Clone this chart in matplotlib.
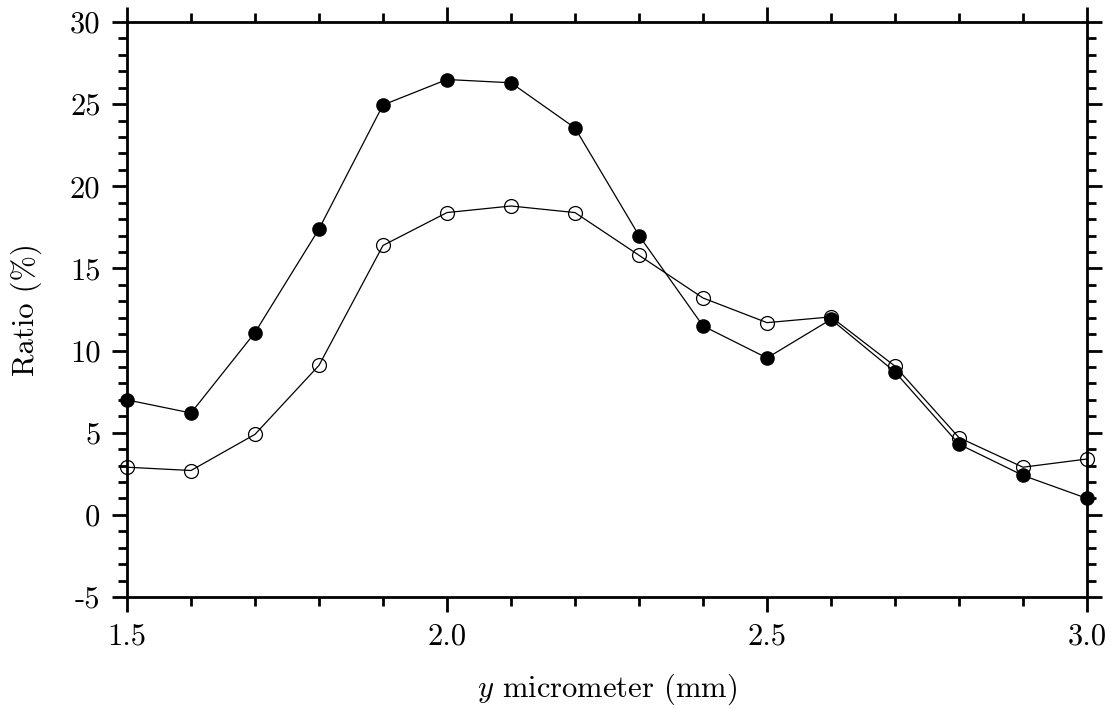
import matplotlib
matplotlib.use("Agg")
import matplotlib.pyplot as plt
from matplotlib.ticker import MultipleLocator, FormatStrFormatter

# Computer Modern look for all text
plt.rcParams['font.family'] = 'cmr10'
plt.rcParams['mathtext.fontset'] = 'cm'
plt.rcParams['axes.unicode_minus'] = False

# Micrometer position (mm) and ratios (%)
y_pos = [1.5, 1.6, 1.7, 1.8, 1.9, 2.0, 2.1, 2.2, 2.3, 2.4, 2.5, 2.6, 2.7, 2.8, 2.9, 3.0]
ratio_filled = [7.0, 6.2, 11.1, 17.4, 24.95, 26.5, 26.3, 23.55, 17.0, 11.5, 9.55, 11.9, 8.7, 4.3, 2.4, 1.0]
ratio_open = [2.9, 2.7, 4.9, 9.1, 16.4, 18.4, 18.8, 18.4, 15.8, 13.2, 11.7, 12.05, 9.05, 4.7, 2.9, 3.4]

fig = plt.figure(figsize=(11.17, 7.09), dpi=100)
ax = fig.add_axes([127/1117, 1 - 597/709, (1087 - 127)/1117, (597 - 22)/709])

ax.plot(y_pos, ratio_filled, color='black', lw=0.9, marker='o', ms=9.5,
        mfc='black', mec='black', clip_on=False, zorder=3)
ax.plot(y_pos, ratio_open, color='black', lw=0.9, marker='o', ms=10,
        mfc='none', mec='black', mew=0.9, clip_on=False, zorder=3)

ax.set_xlim(1.5, 3.0)
ax.set_ylim(-5, 30)
ax.xaxis.set_major_locator(MultipleLocator(0.5))
ax.xaxis.set_minor_locator(MultipleLocator(0.1))
ax.xaxis.set_major_formatter(FormatStrFormatter('%.1f'))
ax.yaxis.set_major_locator(MultipleLocator(5))
ax.yaxis.set_minor_locator(MultipleLocator(1))

for side in ax.spines.values():
    side.set_linewidth(2.0)

ax.tick_params(which='both', direction='out', top=True, right=True,
               labelsize=22, pad=8)
ax.tick_params(which='major', length=11, width=2.0)
ax.tick_params(which='minor', length=6.5, width=2.0)

ax.set_xlabel('$y$ micrometer (mm)', fontsize=22, labelpad=15)
ax.set_ylabel('Ratio (%)', fontsize=22, labelpad=20)

fig.savefig('out.png', dpi=100)
